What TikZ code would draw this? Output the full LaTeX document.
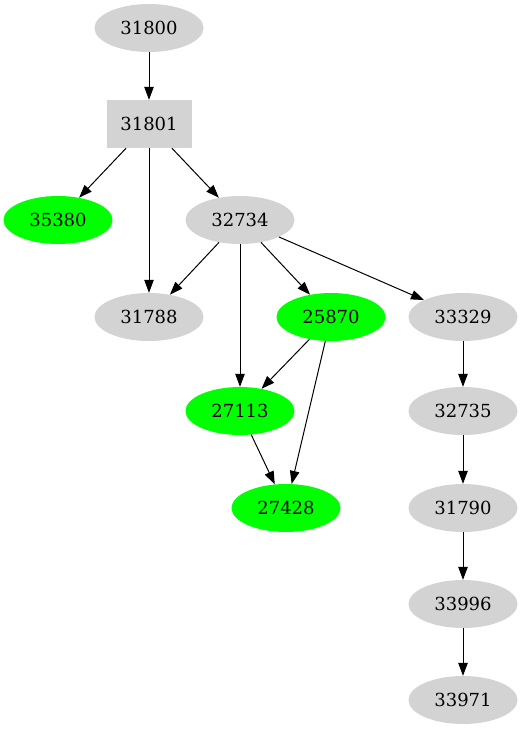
\documentclass[tikz,border=0pt]{standalone}
\usepackage{fontspec}
\setmainfont{DejaVu Serif}
\usetikzlibrary{positioning, arrows.meta, shapes.geometric}

\definecolor{nodegray}{HTML}{D3D3D3}
\definecolor{nodegreen}{HTML}{00FF00}

\begin{document}
\begin{tikzpicture}[x=1pt, y=-1pt,
        task/.style={ellipse, fill=nodegray, minimum width=109pt, minimum height=48pt, inner sep=0pt, font=\fontsize{18}{20}\selectfont},
        done/.style={task, fill=nodegreen},
        root/.style={rectangle, fill=nodegray, minimum width=85pt, minimum height=48pt, inner sep=0pt, font=\fontsize{18}{20}\selectfont},
        link/.style={-{Triangle[length=13pt, width=9.5pt]}, line width=1pt}
    ]
        \useasboundingbox (0,0) rectangle (522,731);

        % Top of the tree
        \node[task] (n31800) at (149, 28) {31800};
        \node[root] (n31801) at (149, 124) {31801};

        % Second level
        \node[done] (n35380) at (58, 220) {35380};
        \node[task] (n32734) at (240, 220) {32734};

        % Third level
        \node[task] (n31788) at (149, 317) {31788};
        \node[done] (n25870) at (331, 317) {25870};
        \node[task] (n33329) at (463, 317) {33329};

        % Lower left
        \node[done] (n27113) at (240, 411) {27113};
        \node[done] (n27428) at (286, 508) {27428};

        % Chain on the right
        \node[task] (n32735) at (463, 411) {32735};
        \node[task] (n31790) at (463, 508) {31790};
        \node[task] (n33996) at (463, 604) {33996};
        \node[task] (n33971) at (463, 700) {33971};

        % Connections
        \foreach \a/\b in {31800/31801, 31801/35380, 31801/31788, 31801/32734,
                           32734/31788, 32734/27113, 32734/25870, 32734/33329,
                           25870/27113, 25870/27428, 27113/27428,
                           33329/32735, 32735/31790, 31790/33996, 33996/33971} {
            \draw[link] (n\a) -- (n\b);
        }
    \end{tikzpicture}
\end{document}
